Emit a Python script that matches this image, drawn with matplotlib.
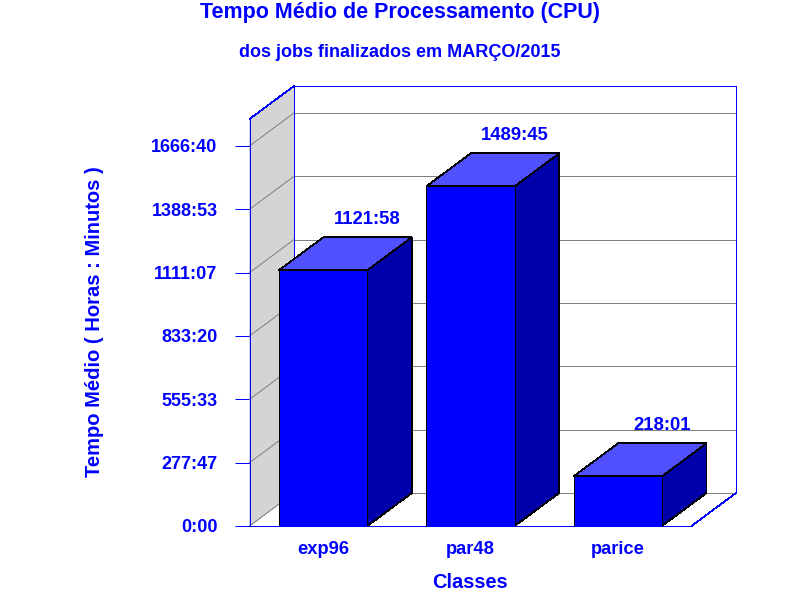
import matplotlib
matplotlib.use('Agg')
import matplotlib.pyplot as plt
from matplotlib.patches import Polygon

plt.rcParams['font.family'] = ['Liberation Sans', 'DejaVu Sans']
plt.rcParams['font.weight'] = 'bold'

classes = ['exp96', 'par48', 'parice']
value_labels = ['1121:58', '1489:45', '218:01']
tick_labels = ['0:00', '277:47', '555:33', '833:20', '1111:07', '1388:53', '1666:40']
tick_minutes = [0, 16667, 33333, 50000, 66667, 83333, 100000]

BLUE = '#0000FF'
W, H = 800, 600
LW = 0.72
LW_DIAG = 0.5


def to_minutes(label):
    hours, minutes = label.split(':')
    return int(hours) * 60 + int(minutes)


values = [to_minutes(v) for v in value_labels]

fig = plt.figure(figsize=(8, 6), dpi=100)
ax = fig.add_axes([249.5 / W, 1 - 526 / H, 442 / W, 407 / H])
ax.set_xlim(-0.5, 2.5)
ax.set_ylim(0, 107100)

# depth of the fake 3d box, in data units
dx = 44.5 / 147.33
dy = 33 * 107100 / 407
bar_w = 0.6
x_max = 2.5
y_max = 107100


def poly(points, face, edge, z):
    ax.add_patch(Polygon(points, closed=True, facecolor=face, edgecolor=edge, linewidth=LW_DIAG,
                         zorder=z, clip_on=False, antialiased=False))


def line(xs, ys, color, z=2, lw=LW, aa=False):
    ax.plot(xs, ys, color=color, lw=lw, zorder=z, clip_on=False, antialiased=aa)


# left wall
poly([(-0.5, 0), (-0.5 + dx, dy), (-0.5 + dx, y_max + dy), (-0.5, y_max)], '#D4D4D4', 'none', 1)

# grid on the wall and on the back
for t in tick_minutes:
    line([-0.5, -0.5 + dx], [t, t + dy], '#808080', aa=True)
    line([-0.5 + dx, x_max + dx], [t + dy, t + dy], '#808080')

# frame
line([-0.5, -0.5 + dx], [y_max, y_max + dy], BLUE, 3, LW_DIAG)
line([x_max + dx, x_max], [dy, 0], BLUE, 3, LW_DIAG)
line([-0.5 + dx, x_max + dx, x_max + dx], [y_max + dy, y_max + dy, dy], BLUE, 3)
line([-0.5 + dx, -0.5 + dx], [dy, y_max + dy], BLUE, 3)

# bars
for i, v in enumerate(values):
    x0 = i - bar_w / 2
    x1 = i + bar_w / 2
    poly([(x0, v), (x0 + dx, v + dy), (x1 + dx, v + dy), (x1, v)], '#5050FF', 'black', 5)
    poly([(x1, 0), (x1 + dx, dy), (x1 + dx, v + dy), (x1, v)], '#0000AA', 'black', 5)
    poly([(x0, 0), (x1, 0), (x1, v), (x0, v)], BLUE, 'black', 6)
    line([x0, x0, x1, x1], [0, v, v, 0], 'black', 7)
    ax.annotate(value_labels[i], (x1, v + dy), xytext=(0, 12.8), textcoords='offset points',
                ha='center', va='center', color=BLUE, fontsize=13.3, zorder=7)

for side in ['top', 'right']:
    ax.spines[side].set_visible(False)
for side in ['left', 'bottom']:
    ax.spines[side].set_color(BLUE)
    ax.spines[side].set_linewidth(LW)
    ax.spines[side].set_zorder(8)

ax.patch.set_visible(False)
ax.set_yticks(tick_minutes)
ax.set_yticklabels(tick_labels)
ax.tick_params(axis='y', length=11, width=LW, color=BLUE, labelcolor=BLUE, labelsize=13, pad=12)
ax.set_xticks(range(len(classes)))
ax.set_xticklabels(classes)
ax.tick_params(axis='x', length=0, labelcolor=BLUE, labelsize=13.2, pad=11)

fig.text(400 / W, 1 - 12.5 / H, 'Tempo Médio de Processamento (CPU)', color=BLUE, fontsize=15.5,
         ha='center', va='center')
fig.text(400 / W, 1 - 52.5 / H, 'dos jobs finalizados em MARÇO/2015', color=BLUE, fontsize=12.95,
         ha='center', va='center')
fig.text(470 / W, 1 - 582 / H, 'Classes', color=BLUE, fontsize=14.4, ha='center', va='center')
fig.text(94.5 / W, 1 - 322 / H, 'Tempo Médio ( Horas : Minutos )', color=BLUE, fontsize=14.5,
         rotation=90, ha='center', va='center')

fig.savefig('out.png', dpi=100)
